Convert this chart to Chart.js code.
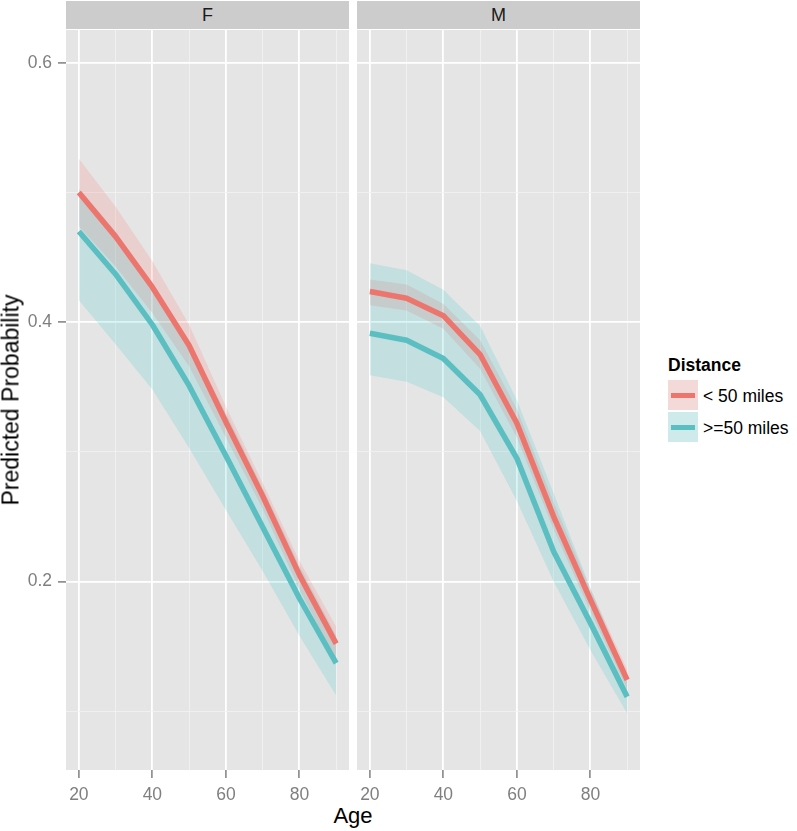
<!DOCTYPE html>
<html><head><meta charset="utf-8">
<script src="https://cdn.jsdelivr.net/npm/chart.js@4.4.0/dist/chart.umd.min.js"></script>
<style>
body{margin:0;background:#fff;width:797px;height:831px;position:relative;overflow:hidden;font-family:"Liberation Sans",Arial,sans-serif;}
.strip{position:absolute;top:1px;height:28px;background:#CCCCCC;color:#1A1A1A;font-size:18px;text-align:center;line-height:29px;}
.wrap{position:absolute;top:30px;height:771px;}
.ttl{position:absolute;font-size:22px;color:#000;white-space:nowrap;transform:translate(-50%,-50%);}
.lg{position:absolute;font-size:17.5px;color:#000;white-space:nowrap;}
.key{position:absolute;left:668px;width:30px;background:#F2F2F2;}
.key .fillr{position:absolute;left:0;top:0;right:0;bottom:0;}
.key .ln{position:absolute;left:3px;right:3px;height:5px;top:50%;margin-top:-2.5px;}
</style></head>
<body>
<div class="strip" style="left:66px;width:283px;">F</div>
<div class="strip" style="left:357px;width:283px;">M</div>
<div class="wrap" style="left:0;width:353px;"><canvas id="cF" width="353" height="771"></canvas></div>
<div class="wrap" style="left:357px;width:287px;"><canvas id="cM" width="287" height="771"></canvas></div>
<div class="ttl" style="left:353px;top:816px;">Age</div>
<div class="ttl" style="left:11px;top:400px;font-size:23px;transform:translate(-50%,-50%) rotate(-90deg);">Predicted Probability</div>
<div class="lg" style="left:668px;top:355px;font-weight:bold;">Distance</div>
<div class="key" style="top:380px;height:30px;"><div class="fillr" style="background:rgba(248,118,109,0.2)"></div><div class="ln" style="background:#EC766D"></div></div>
<div class="key" style="top:412px;height:30px;"><div class="fillr" style="background:rgba(0,191,196,0.15)"></div><div class="ln" style="background:#5BBEC1"></div></div>
<div class="lg" style="left:703px;top:386px;">&lt; 50 miles</div>
<div class="lg" style="left:703px;top:418px;">&gt;=50 miles</div>
<script>
// ---- data ----
const ages = [20, 30, 40, 50, 60, 70, 80, 90];
const seriesNames = ['< 50 miles', '>=50 miles'];
// Panel F
const fNearFit  = [0.500, 0.466, 0.427, 0.382, 0.323, 0.266, 0.205, 0.152];
const fNearLow  = [0.474, 0.443, 0.407, 0.366, 0.311, 0.256, 0.194, 0.139];
const fNearHigh = [0.526, 0.489, 0.447, 0.398, 0.335, 0.276, 0.216, 0.165];
const fFarFit   = [0.470, 0.437, 0.398, 0.351, 0.297, 0.242, 0.187, 0.137];
const fFarLow   = [0.417, 0.383, 0.348, 0.303, 0.255, 0.208, 0.158, 0.112];
const fFarHigh  = [0.503, 0.470, 0.430, 0.385, 0.330, 0.272, 0.212, 0.158];
// Panel M
const mNearFit  = [0.4236, 0.4185, 0.405, 0.375, 0.322, 0.250, 0.186, 0.124];
const mNearLow  = [0.413, 0.409, 0.395, 0.364, 0.311, 0.240, 0.177, 0.117];
const mNearHigh = [0.433, 0.429, 0.414, 0.386, 0.333, 0.261, 0.194, 0.132];
const mFarFit   = [0.3915, 0.386, 0.372, 0.344, 0.295, 0.223, 0.168, 0.111];
const mFarLow   = [0.359, 0.354, 0.342, 0.316, 0.262, 0.200, 0.147, 0.098];
const mFarHigh  = [0.4455, 0.440, 0.425, 0.397, 0.340, 0.268, 0.195, 0.127];
// ticks
const xTicks = [20, 30, 40, 50, 60, 70, 80, 90];
const xTickLabels = ['20', '', '40', '', '60', '', '80', ''];
const yTicks = [0.1, 0.2, 0.3, 0.4, 0.5, 0.6];
const yTickLabels = ['', '0.2', '', '0.4', '', '0.6'];
const xRange = [16.5, 93.5];
const yRange = [0.0545, 0.6254];

const RED = '#EC766D', TEAL = '#5BBEC1';
const RED_A = 'rgba(248,118,109,0.2)', TEAL_A = 'rgba(0,191,196,0.15)';
const FONT = '"Liberation Sans", Arial, sans-serif';

const pts = arr => ages.map((a, i) => ({x: a, y: arr[i]}));

function datasets(nFit, nLo, nHi, fFit, fLo, fHi) {
  const rib = (data, fill, color, order) => ({data: pts(data), fill, backgroundColor: color,
    borderWidth: 0, pointRadius: 0, tension: 0, order});
  return [
    rib(nHi, '+1', RED_A, 4), rib(nLo, false, RED_A, 4),
    rib(fHi, '+1', TEAL_A, 3), rib(fLo, false, TEAL_A, 3),
    {label: seriesNames[0], data: pts(nFit), borderColor: RED, borderWidth: 5.5, pointRadius: 0,
     fill: false, tension: 0, borderJoinStyle: 'round', order: 1},
    {label: seriesNames[1], data: pts(fFit), borderColor: TEAL, borderWidth: 5.5, pointRadius: 0,
     fill: false, tension: 0, borderJoinStyle: 'round', order: 0}
  ];
}

const bgPlugin = {id: 'bg', beforeDraw(c) {
  const {ctx, chartArea: a} = c; ctx.save(); ctx.fillStyle = '#E5E5E5';
  ctx.fillRect(a.left, a.top, a.right - a.left, a.bottom - a.top); ctx.restore();
}};

const noPad = s => { s.paddingTop = 0; s.paddingBottom = 0; s.paddingLeft = 0; s.paddingRight = 0; };

function makeChart(showY, yWidth) {
  return {
    type: 'line',
    plugins: [bgPlugin],
    options: {
      responsive: false, animation: false, devicePixelRatio: 1,
      layout: {padding: {left: 0, right: 4, top: 0, bottom: 0}},
      plugins: {legend: {display: false}, tooltip: {enabled: false}},
      scales: {
        x: {
          type: 'linear', min: xRange[0], max: xRange[1],
          afterBuildTicks: s => { s.ticks = xTicks.map(v => ({value: v})); },
          afterFit: s => { s.height = 31; noPad(s); },
          border: {display: false},
          grid: {
            color: c => xTickLabels[c.index] ? '#FFFFFF' : '#F2F2F2',
            lineWidth: c => xTickLabels[c.index] ? 1.8 : 0.8,
            tickColor: c => xTickLabels[c.index] ? '#7F7F7F' : 'rgba(0,0,0,0)',
            tickWidth: 1.5, tickLength: 8, drawTicks: true
          },
          ticks: {autoSkip: false, maxRotation: 0, padding: 7, color: '#7F7F7F',
            font: {family: FONT, size: 17.5},
            callback: (v, i) => xTickLabels[i]}
        },
        y: {
          type: 'linear', min: yRange[0], max: yRange[1],
          afterBuildTicks: s => { s.ticks = yTicks.map(v => ({value: v})); },
          afterFit: s => { s.width = yWidth; noPad(s); },
          border: {display: false},
          grid: {
            color: c => yTickLabels[c.index] ? '#FFFFFF' : '#F2F2F2',
            lineWidth: c => yTickLabels[c.index] ? 1.8 : 0.8,
            tickColor: c => (showY && yTickLabels[c.index]) ? '#7F7F7F' : 'rgba(0,0,0,0)',
            tickWidth: 1.5, tickLength: 8, drawTicks: showY
          },
          ticks: {display: showY, padding: 6, color: '#7F7F7F',
            font: {family: FONT, size: 17.5},
            callback: (v, i) => yTickLabels[i]}
        }
      }
    }
  };
}

const cfgF = makeChart(true, 66);
cfgF.data = {datasets: datasets(fNearFit, fNearLow, fNearHigh, fFarFit, fFarLow, fFarHigh)};
new Chart(document.getElementById('cF'), cfgF);

const cfgM = makeChart(false, 0);
cfgM.data = {datasets: datasets(mNearFit, mNearLow, mNearHigh, mFarFit, mFarLow, mFarHigh)};
new Chart(document.getElementById('cM'), cfgM);
</script>
</body></html>
